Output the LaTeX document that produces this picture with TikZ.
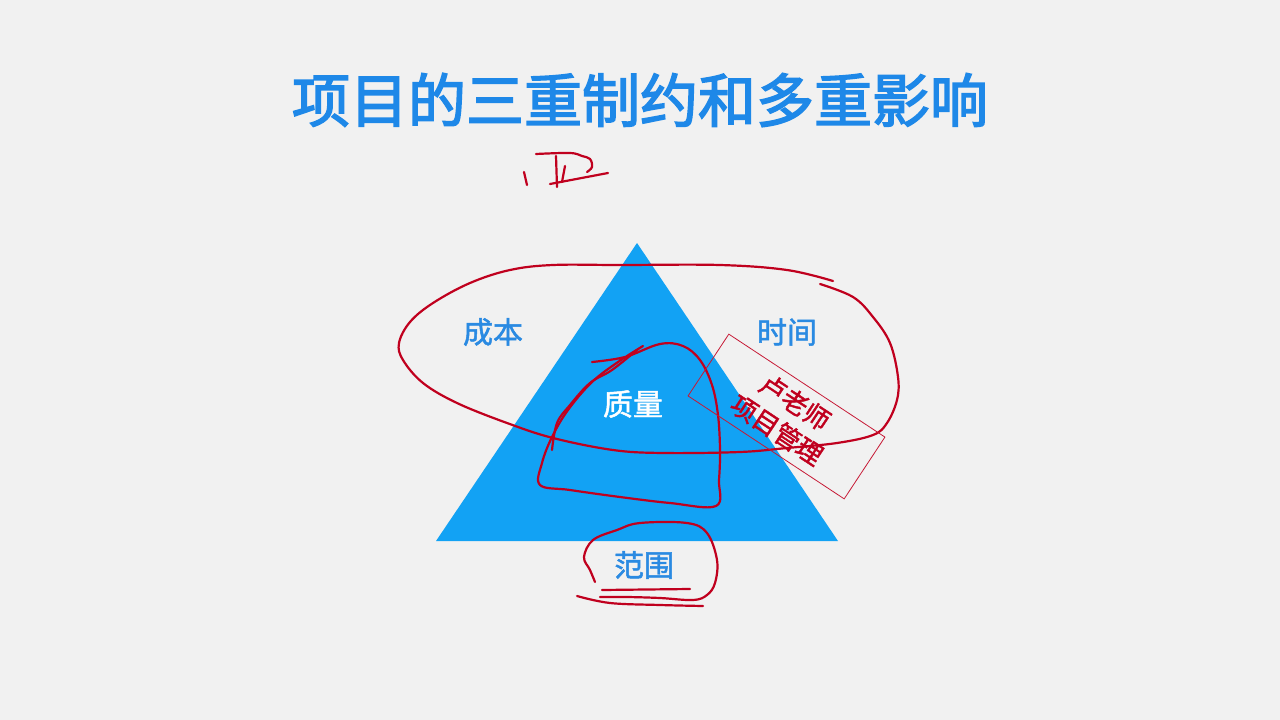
\documentclass[tikz,border=0pt]{standalone}
\usepackage{fontspec}
\setmainfont{Noto Sans CJK SC}
\newfontfamily\cjk{Noto Sans CJK SC}
\newfontfamily\cjkmed[FakeBold=1.6]{Noto Sans CJK SC}
\newfontfamily\cjkthick[FakeBold=2.6]{Noto Sans CJK SC}
\definecolor{paper}{HTML}{F1F1F1}
\definecolor{titleblue}{HTML}{1E88E8}
\definecolor{triblue}{HTML}{12A2F4}
\definecolor{lblblue}{HTML}{2A8AE2}
\definecolor{ink}{HTML}{C0001E}
\begin{document}
\begin{tikzpicture}[x=1pt,y=-1pt,
  title/.style={text=titleblue,font=\cjkthick\fontsize{58}{58}\selectfont,inner sep=0pt},
  lbl/.style={text=lblblue,font=\cjkmed\fontsize{30}{30}\selectfont,inner sep=0pt},
  pen/.style={ink,line width=2.2pt,line cap=round,line join=round},
  stampbox/.style={draw=ink!90,line width=0.8pt,minimum width=187pt,minimum height=74pt,inner sep=0pt},
  stamptext/.style={text=ink,font=\cjkmed\fontsize{26}{33}\selectfont,align=center,inner sep=0pt}]
\fill[paper] (0,0) rectangle (1280,720);
\node[title] (title) at (640,100) {项目的三重制约和多重影响};
\coordinate (apex) at (637,243);
\coordinate (right) at (838,541);
\coordinate (left) at (436,541);
\fill[triblue] (apex) -- (right) -- (left) -- cycle;
\node[lbl] (cost) at (493,332) {成本};
\node[lbl] (time) at (787,332) {时间};
\node[lbl,text=white] (quality) at (633,404) {质量};
\node[lbl] (scope) at (644,565) {范围};
\draw[pen] plot[smooth,tension=0.6] coordinates {(524,172) (527,185)};
\draw[pen] plot[smooth,tension=0.6] coordinates {(536,154) (570,153) (582,156) (590,159) (592,167) (587,172)};
\draw[pen] (556,156) -- (557,187);
\draw[pen] (565,166) -- (562,182);
\draw[pen] (550,184) -- (608,173);
\draw[pen] plot[smooth,tension=0.6] coordinates {(833,281) (787,270) (720,265) (620,265) (553,265) (510,270) (470,283) (433,303) (410,322) (399,343) (403,360) (423,383) (457,403) (507,423) (553,438) (613,450) (663,453) (740,452) (787,448) (837,443) (873,435) (887,423) (897,400) (898,377) (890,343) (873,317) (853,297) (820,284)};
\draw[pen] plot[smooth,tension=0.6] coordinates {(592,362) (625,357) (660,344) (683,346) (700,360) (712,385) (718,415) (720,450) (719,480) (716,506) (670,503) (620,497) (570,490) (540,485) (542,463) (552,437) (568,410) (592,382) (618,362) (643,346)};
\draw[pen] plot[smooth,tension=0.6] coordinates {(637,350) (612,370) (590,383) (570,405) (557,423) (552,450)};
\draw[pen] plot[smooth,tension=0.6] coordinates {(595,582) (590,570) (584,557) (593,540) (617,530) (640,523) (687,523) (707,533) (717,560) (715,583) (707,595) (693,600) (660,598) (627,597) (600,597)};
\draw[pen] (602,590) -- (690,589);
\draw[pen] plot[smooth,tension=0.6] coordinates {(577,596) (610,603) (660,605) (703,606)};
\node[stampbox,rotate=-33.4] (stamp) at (786.5,416.5) {};
\node[stamptext,rotate=-33.4] (teacher) at (786,416) {卢老师\\项目管理};
\end{tikzpicture}
\end{document}
